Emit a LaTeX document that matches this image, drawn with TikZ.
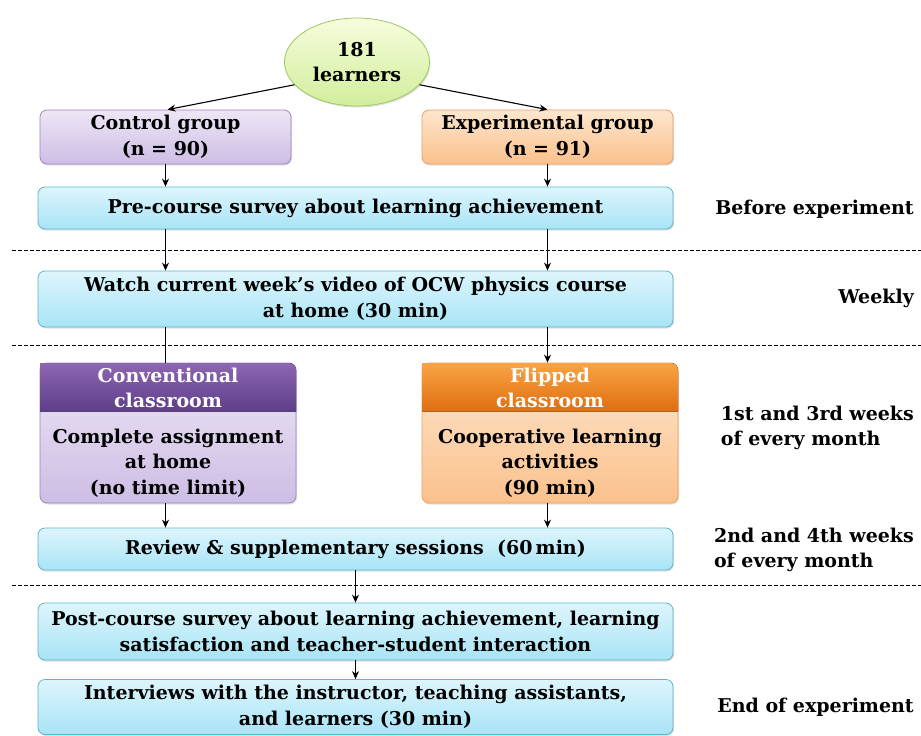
\documentclass[tikz,border=0pt]{standalone}
\usepackage{fontspec}
\setmainfont{DejaVu Serif}
\usetikzlibrary{arrows.meta,shapes.geometric,shadows}

\definecolor{cyanline}{HTML}{5EB4CC}
\definecolor{cyantop}{HTML}{DDF5FC}
\definecolor{cyanbot}{HTML}{A8E4F6}
\definecolor{purpline}{HTML}{9B86C0}
\definecolor{purptop}{HTML}{EEE6F6}
\definecolor{purpbot}{HTML}{CDBDE4}
\definecolor{purphdtop}{HTML}{8E66B2}
\definecolor{purphdbot}{HTML}{5E3E88}
\definecolor{orngline}{HTML}{EDA060}
\definecolor{orngtop}{HTML}{FDE6CE}
\definecolor{orngbot}{HTML}{FBC18C}
\definecolor{ornghdtop}{HTML}{F9A444}
\definecolor{ornghdbot}{HTML}{DE6E12}
\definecolor{grnline}{HTML}{9CC860}
\definecolor{grntop}{HTML}{F6FCDC}
\definecolor{grnbot}{HTML}{D2EE9C}

\tikzset{
    txt/.style={font=\fontsize{19}{25.5}\selectfont\bfseries, align=center},
    shad/.style={drop shadow={opacity=0.25, shadow xshift=1pt, shadow yshift=-1.5pt}},
    cyanbox/.style={txt, draw=cyanline, line width=0.8pt, rounded corners=7pt, shad,
        top color=cyantop, bottom color=cyanbot, minimum width=635pt, inner sep=0pt},
    purpbox/.style={txt, draw=purpline, line width=0.8pt, rounded corners=7pt, shad,
        top color=purptop, bottom color=purpbot, minimum width=251pt, inner sep=0pt},
    orngbox/.style={txt, draw=orngline, line width=0.8pt, rounded corners=7pt, shad,
        top color=orngtop, bottom color=orngbot, minimum width=251pt, inner sep=0pt},
    sidetxt/.style={txt, inner sep=0pt},
    arr/.style={-{Stealth[length=8pt,width=7pt]}, line width=1.1pt},
    sepline/.style={line width=0.8pt, dash pattern=on 4pt off 2pt}
}

\begin{document}
\begin{tikzpicture}[x=1pt, y=-1pt]

    \useasboundingbox (0,0) rectangle (921,736);

    % Start
    \node[ellipse, draw=grnline, line width=0.8pt, top color=grntop, bottom color=grnbot, shad,
        minimum width=145pt, minimum height=88pt, inner sep=0pt, txt] (learners) at (357,62) {181\\learners};

    % Groups
    \node[purpbox, minimum height=54pt] (ctrl) at (165.5,137) {Control group\\(n = 90)};
    \node[orngbox, minimum height=54pt] (expg) at (547.5,137) {Experimental group\\(n = 91)};

    % Common steps
    \node[cyanbox, minimum height=42pt] (pre) at (355.5,208) {Pre-course survey about learning achievement};
    \node[cyanbox, minimum height=56pt] (watch) at (355.5,299) {Watch current week's video of OCW physics course\\at home (30 min)};

    % Classrooms
    \node[purpbox, minimum width=256pt, minimum height=140pt] (conv) at (168,433) {};
    \fill[top color=purphdtop, bottom color=purphdbot, rounded corners=7pt]
        ([shift={(0.4,0.4)}]conv.north west) -- ([shift={(-0.4,0.4)}]conv.north east)
        [sharp corners] -- ([shift={(-0.4,49)}]conv.north east) -- ([shift={(0.4,49)}]conv.north west) -- cycle;
    \node[txt, text=white] (convhead) at (168,388) {Conventional\\classroom};
    \node[txt] (convtxt) at (168,463) {Complete assignment\\at home\\(no time limit)};

    \node[orngbox, minimum width=256pt, minimum height=140pt] (flip) at (550,433) {};
    \fill[top color=ornghdtop, bottom color=ornghdbot, rounded corners=7pt]
        ([shift={(0.4,0.4)}]flip.north west) -- ([shift={(-0.4,0.4)}]flip.north east)
        [sharp corners] -- ([shift={(-0.4,49)}]flip.north east) -- ([shift={(0.4,49)}]flip.north west) -- cycle;
    \node[txt, text=white] (fliphead) at (550,388) {Flipped\\classroom};
    \node[txt] (fliptxt) at (550,463) {Cooperative learning\\activities\\(90 min)};

    % Final steps
    \node[cyanbox, minimum height=42pt] (review) at (355.5,549) {Review \& supplementary sessions ~(60\,min)};
    \node[cyanbox, minimum height=57pt] (post) at (355.5,631.5) {Post-course survey about learning achievement, learning\\satisfaction and teacher-student interaction};
    \node[cyanbox, minimum height=55pt] (interv) at (355.5,707) {Interviews with the instructor, teaching assistants,\\and learners (30 min)};

    % Phases
    \node[sidetxt, anchor=east] (before) at (914,209) {Before experiment};
    \node[sidetxt, anchor=east] (weekly) at (914,298) {Weekly};
    \node[sidetxt, anchor=east, align=left] (oddweeks) at (914,428) {1st and 3rd weeks\\of every month};
    \node[sidetxt, anchor=east, align=left] (evenweeks) at (914,550) {2nd and 4th weeks\\of every month};
    \node[sidetxt, anchor=east] (finish) at (914,707) {End of experiment};

    % Separators
    \foreach \y in {250, 345, 585}{
        \draw[sepline] (12,\y) -- (921,\y);
    }

    % Arrows
    \draw[arr] (learners.200) -- ([xshift=2pt]ctrl.north);
    \draw[arr] (learners.340) -- (expg.north);
    \draw[arr] (ctrl.south) -- (ctrl.south |- pre.north);
    \draw[arr] (expg.south) -- (expg.south |- pre.north);
    \draw[arr] (pre.south -| ctrl.south) -- (watch.north -| ctrl.south);
    \draw[arr] (pre.south -| expg.south) -- (watch.north -| expg.south);
    \draw[line width=1.1pt] (watch.south -| ctrl.south) -- (conv.north -| ctrl.south);
    \draw[arr] (watch.south -| expg.south) -- (flip.north -| expg.south);
    \draw[arr] (conv.south -| ctrl.south) -- (review.north -| ctrl.south);
    \draw[arr] (flip.south -| expg.south) -- (review.north -| expg.south);
    \draw[arr] (review.south) -- (post.north);
    \draw[arr] (post.south) -- (interv.north);

\end{tikzpicture}
\end{document}
